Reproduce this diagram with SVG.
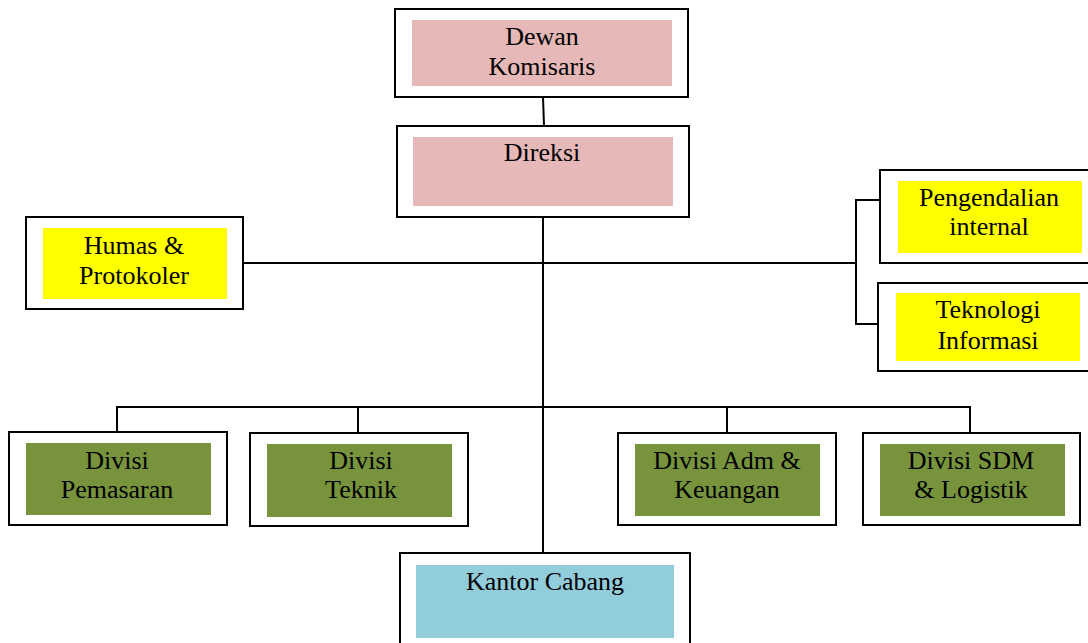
<svg xmlns="http://www.w3.org/2000/svg" width="1088" height="643" viewBox="0 0 1088 643">
<style>
.outer{fill:#fff;stroke:#000;stroke-width:2}
.pink{fill:#E6B8B7}
.yel{fill:#FFFF00}
.grn{fill:#77933C}
.blu{fill:#92CDDC}
text{font-family:"Liberation Serif","Times New Roman",serif;font-size:26px;fill:#000;text-anchor:middle}
.conn{fill:none;stroke:#000;stroke-width:2}
</style>
<rect width="1088" height="643" fill="#fff"/>
<g id="connectors">
<line class="conn" x1="543" y1="97" x2="544" y2="126"/>
<line class="conn" x1="543" y1="217" x2="543" y2="553"/>
<line class="conn" x1="243" y1="263" x2="856" y2="263"/>
<polyline class="conn" points="880,200 856,200 856,324 878,324"/>
<polyline class="conn" points="117,432 117,407 970,407 970,433"/>
<line class="conn" x1="358" y1="407" x2="358" y2="433"/>
<line class="conn" x1="727" y1="407" x2="727" y2="433"/>
</g>
<g id="dewan">
<rect class="outer" x="395" y="9" width="293" height="88"/>
<rect class="pink" x="412" y="20" width="260" height="66"/>
<text x="542" y="45">Dewan</text>
<text x="542" y="75">Komisaris</text>
</g>
<g id="direksi">
<rect class="outer" x="397" y="126" width="292" height="91"/>
<rect class="pink" x="413" y="137" width="260" height="69"/>
<text x="542" y="161">Direksi</text>
</g>
<g id="humas">
<rect class="outer" x="26" y="217" width="217" height="92"/>
<rect class="yel" x="43" y="228" width="184" height="71"/>
<text x="134" y="254">Humas &amp;</text>
<text x="134" y="284">Protokoler</text>
</g>
<g id="pengendalian">
<rect class="outer" x="880" y="170" width="210" height="93"/>
<rect class="yel" x="898" y="181" width="184" height="72"/>
<text x="989" y="206">Pengendalian</text>
<text x="989" y="235">internal</text>
</g>
<g id="teknologi">
<rect class="outer" x="878" y="283" width="212" height="88"/>
<rect class="yel" x="896" y="293" width="184" height="68"/>
<text x="988" y="318">Teknologi</text>
<text x="988" y="349">Informasi</text>
</g>
<g id="pemasaran">
<rect class="outer" x="9" y="432" width="218" height="93"/>
<rect class="grn" x="26" y="443" width="185" height="72"/>
<text x="117" y="469">Divisi</text>
<text x="117" y="498">Pemasaran</text>
</g>
<g id="teknik">
<rect class="outer" x="250" y="433" width="218" height="93"/>
<rect class="grn" x="267" y="444" width="185" height="73"/>
<text x="361" y="469">Divisi</text>
<text x="361" y="498">Teknik</text>
</g>
<g id="adm">
<rect class="outer" x="618" y="433" width="218" height="92"/>
<rect class="grn" x="635" y="444" width="185" height="72"/>
<text x="727" y="469">Divisi Adm &amp;</text>
<text x="727" y="498">Keuangan</text>
</g>
<g id="sdm">
<rect class="outer" x="863" y="433" width="217" height="92"/>
<rect class="grn" x="880" y="444" width="185" height="72"/>
<text x="971" y="469">Divisi SDM</text>
<text x="971" y="498">&amp; Logistik</text>
</g>
<g id="kantor">
<rect class="outer" x="400" y="553" width="290" height="100"/>
<rect class="blu" x="416" y="565" width="258" height="73"/>
<text x="545" y="590">Kantor Cabang</text>
</g>
</svg>
